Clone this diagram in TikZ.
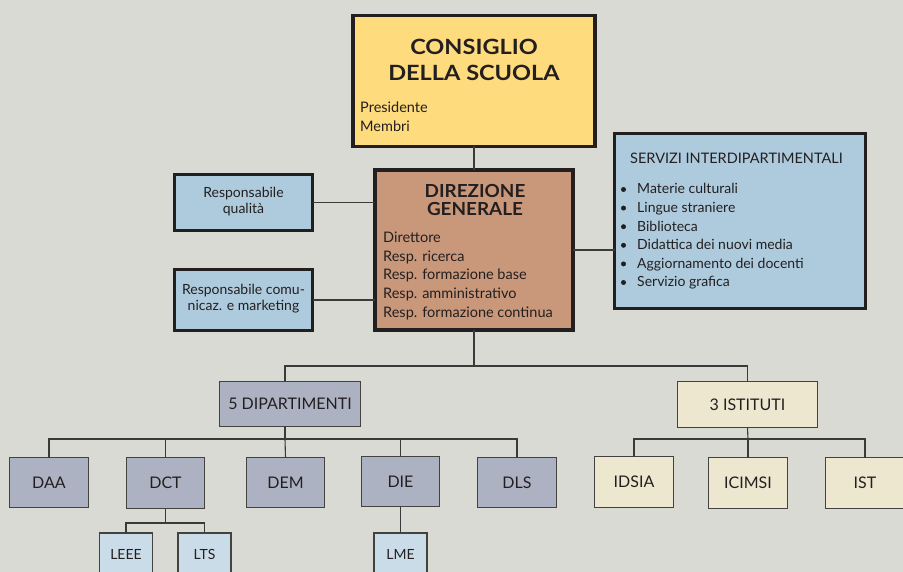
\documentclass[tikz,border=0pt]{standalone}
\usepackage{fontspec}
\setmainfont{Lato}
\definecolor{bg}{HTML}{D9DAD4}
\definecolor{ink}{HTML}{231F20}
\definecolor{lineC}{HTML}{3A3A3A}
\definecolor{consC}{HTML}{FEDB7C}
\definecolor{dirC}{HTML}{C9987B}
\definecolor{blueC}{HTML}{AECBDE}
\definecolor{deptC}{HTML}{ADB2C2}
\definecolor{istC}{HTML}{EEE7D0}
\definecolor{labC}{HTML}{CBDCE9}
\begin{document}
\begin{tikzpicture}[x=1pt,y=-1pt,
  bigbox/.style={draw=ink, line width=3.4pt, inner sep=0pt, outer sep=0pt},
  smallbox/.style={draw=ink!85, line width=1.3pt, inner sep=0pt, outer sep=0pt, text=ink, font=\fontsize{16}{18}\selectfont},
  conn/.style={draw=lineC, line width=1.1pt},
  ttl/.style={text=ink, font=\fontsize{21}{24}\bfseries\addfontfeature{FakeStretch=1.12}\selectfont, inner sep=0pt},
  ttlb/.style={text=ink, font=\fontsize{18}{20}\bfseries\addfontfeature{FakeStretch=1.05}\selectfont, inner sep=0pt},
  txt/.style={text=ink, font=\fontsize{14.5}{16}\selectfont, inner sep=0pt},
  stxt/.style={text=ink, font=\fontsize{14}{16}\selectfont, inner sep=0pt},
  dot/.style={circle, fill=ink, inner sep=0pt, minimum size=5pt}
]
\fill[bg] (0,0) rectangle (903,572);
\useasboundingbox (0,0) rectangle (903,572);

% upper boxes
\node[bigbox, fill=consC, minimum width=242pt, minimum height=131pt] (cons) at (474,81) {};
\node[bigbox, fill=dirC, minimum width=198pt, minimum height=160pt] (dir) at (474,250) {};
\node[bigbox, fill=blueC, minimum width=138pt, minimum height=56pt] (qual) at (243.5,202.5) {};
\node[bigbox, fill=blueC, minimum width=138pt, minimum height=61pt] (com) at (243.5,300) {};
\node[bigbox, fill=blueC, minimum width=251pt, minimum height=175pt] (serv) at (740,221) {};

% texts of upper boxes
\node[ttl, anchor=base] (consT1) at (474,55) {CONSIGLIO};
\node[ttl, anchor=base] (consT2) at (474,81) {DELLA SCUOLA};
\node[txt, anchor=base west] (consL1) at (360,113) {Presidente};
\node[txt, anchor=base west] (consL2) at (360,132) {Membri};

\node[ttlb, anchor=base] (dirT1) at (475,198) {DIREZIONE};
\node[ttlb, anchor=base] (dirT2) at (475,216) {GENERALE};
\node[txt, anchor=base west] (dirL1) at (383,243) {Direttore};
\node[txt, anchor=base west] (dirL2) at (383,261.5) {Resp. ricerca};
\node[txt, anchor=base west] (dirL3) at (383,280) {Resp. formazione base};
\node[txt, anchor=base west] (dirL4) at (383,298.5) {Resp. amministrativo};
\node[txt, anchor=base west] (dirL5) at (383,317) {Resp. formazione continua};

\node[stxt, anchor=base] (qualT1) at (243.5,198) {Responsabile};
\node[stxt, anchor=base] (qualT2) at (243.5,214) {qualità};
\node[stxt, anchor=base] (comT1) at (243.5,295) {Responsabile comu-};
\node[stxt, anchor=base] (comT2) at (243.5,311) {nicaz. e marketing};

\node[stxt, anchor=base west, font=\fontsize{14.5}{16}\selectfont] (servT) at (630,164) {SERVIZI INTERDIPARTIMENTALI};
\foreach \y/\t [count=\i] in {194/Materie culturali, 212.6/Lingue straniere, 231.2/Biblioteca, 249.8/Didattica dei nuovi media, 268.4/Aggiornamento dei docenti, 287/Servizio grafica}{
  \node[dot] (servB\i) at (623.5,\y-4.5) {};
  \node[stxt, anchor=base west] (servL\i) at (637,\y) {\t};
}

% middle level
\node[smallbox, fill=deptC, minimum width=141pt, minimum height=45pt] (dip) at (290,404) {5 DIPARTIMENTI};
\node[smallbox, fill=istC, minimum width=140pt, minimum height=46pt] (ist) at (747.5,404.5) {3 ISTITUTI};

% departments
\node[smallbox, fill=deptC, minimum width=79pt, minimum height=50pt] (daa) at (49,482.5) {DAA};
\node[smallbox, fill=deptC, minimum width=78pt, minimum height=51pt] (dct) at (165.5,483) {DCT};
\node[smallbox, fill=deptC, minimum width=78pt, minimum height=50pt] (dem) at (285.5,482.5) {DEM};
\node[smallbox, fill=deptC, minimum width=78pt, minimum height=50pt] (die) at (400.5,481.5) {DIE};
\node[smallbox, fill=deptC, minimum width=79pt, minimum height=50pt] (dls) at (517,482.5) {DLS};

% institutes
\node[smallbox, fill=istC, minimum width=79pt, minimum height=51pt] (idsia) at (634,482) {IDSIA};
\node[smallbox, fill=istC, minimum width=79pt, minimum height=51pt] (icimsi) at (748,483) {ICIMSI};
\node[smallbox, fill=istC, minimum width=79pt, minimum height=51pt] (istb) at (865,483) {IST};

% labs
\node[smallbox, fill=labC, minimum width=53pt, minimum height=44pt, font=\fontsize{14}{16}\selectfont] (leee) at (126,555) {\raisebox{2pt}{LEEE}};
\node[smallbox, fill=labC, minimum width=53pt, minimum height=44pt, font=\fontsize{14}{16}\selectfont] (lts) at (204.5,555) {\raisebox{2pt}{LTS}};
\node[smallbox, fill=labC, minimum width=53pt, minimum height=44pt, font=\fontsize{14}{16}\selectfont] (lme) at (400.5,555) {\raisebox{2pt}{LME}};

% junction coordinates
\coordinate (jmain) at (474,366);
\coordinate (jdept) at (285,439);
\coordinate (jist) at (748,439);
\coordinate (jlab) at (165.5,523);

% connectors
\draw[conn] (cons.south) -- (dir.north);
\draw[conn] (qual.east) -- (qual.east -| dir.west);
\draw[conn] (com.east) -- (com.east -| dir.west);
\draw[conn] (dir.east) -- (dir.east -| serv.west);
\draw[conn] (dir.south) -- (jmain);
\draw[conn] (jmain) -| ([xshift=-5pt]dip.north);
\draw[conn] (jmain) -| (ist.north);
\draw[conn] ([xshift=-5pt]dip.south) -- (jdept);
\draw[conn] (jdept) -| (daa.north);
\draw[conn] (jdept) -| (dct.north);
\draw[conn] (jdept) -- (dem.north);
\draw[conn] (jdept) -| (die.north);
\draw[conn] (jdept) -| (dls.north);
\draw[conn] (ist.south) -- (jist);
\draw[conn] (jist) -| (idsia.north);
\draw[conn] (jist) -- (icimsi.north);
\draw[conn] (jist) -| (istb.north);
\draw[conn] (dct.south) -- (jlab);
\draw[conn] (jlab) -| (leee.north);
\draw[conn] (jlab) -| (lts.north);
\draw[conn] (die.south) -- (lme.north);
\end{tikzpicture}
\end{document}
